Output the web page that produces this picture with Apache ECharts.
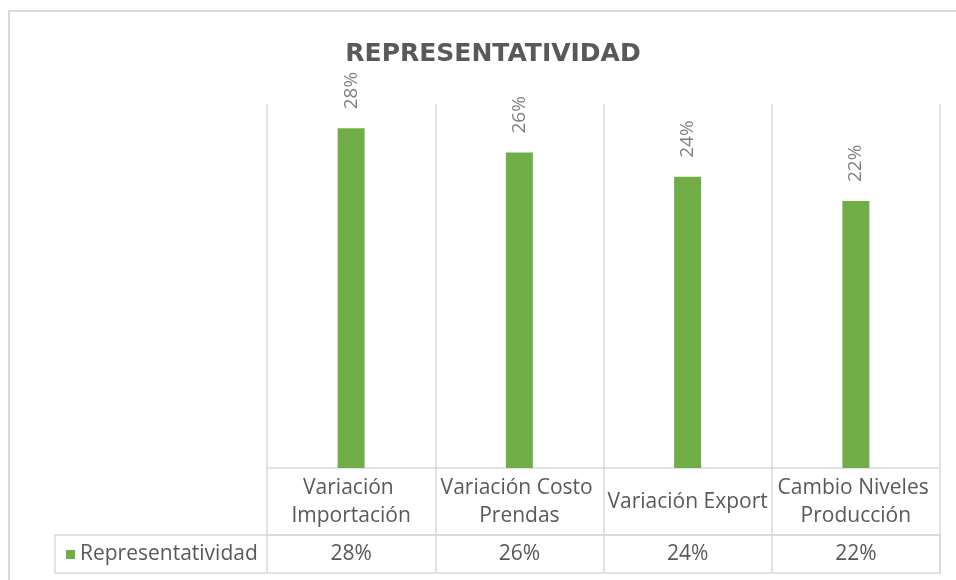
<!DOCTYPE html>
<html>
<head>
<meta charset="utf-8">
<script src="https://cdn.jsdelivr.net/npm/echarts@6/dist/echarts.min.js"></script>
<style>
  html, body { margin: 0; padding: 0; background: #fff; }
  #chart { width: 956px; height: 580px; }
</style>
</head>
<body>
<div id="chart"></div>
<script>
// datos del grafico
var titulo = 'REPRESENTATIVIDAD'
var serieNombre = 'Representatividad'
var categorias = ['Variación Importación', 'Variación Costo Prendas', 'Variación Export', 'Cambio Niveles Producción']
var valores = [28, 26, 24, 22]

var gris = '#d9d9d9'
var texto = '#595959'
var fuente = 'Open Sans'

var chart = echarts.init(document.getElementById('chart'))

chart.setOption({
  animation: false,
  title: {
    text: titulo,
    left: 488,
    textAlign: 'center',
    top: 37,
    textStyle: {
      fontFamily: 'DejaVu Sans',
      fontSize: 25,
      fontWeight: 'bold',
      color: texto
    }
  },
  legend: {
    data: [serieNombre],
    left: 66,
    top: 544,
    padding: 0,
    icon: 'rect',
    itemWidth: 9,
    itemHeight: 9,
    textStyle: { fontFamily: fuente, fontSize: 21, color: texto }
  },
  grid: {
    left: 267,
    right: 16,
    top: 104,
    bottom: 112
  },
  xAxis: [{
    type: 'category',
    data: categorias,
    axisLine: { lineStyle: { color: gris, width: 1.5 } },
    axisTick: { show: true, length: 67, lineStyle: { color: gris, width: 1.5 } },
    splitLine: { show: true, lineStyle: { color: gris, width: 1.5 } },
    axisLabel: {
      interval: 0,
      fontFamily: fuente,
      fontSize: 21,
      color: texto,
      margin: 34,
      verticalAlign: 'middle',
      align: 'center',
      width: 176,
      overflow: 'break',
      lineHeight: 28
    }
  }, {
    type: 'category',
    data: categorias,
    position: 'bottom',
    offset: 67,
    axisLine: { lineStyle: { color: gris, width: 1.5 } },
    axisTick: { show: true, length: 38, lineStyle: { color: gris, width: 1.5 } },
    axisLabel: {
      interval: 0,
      fontFamily: fuente,
      fontSize: 21,
      color: texto,
      margin: 19,
      verticalAlign: 'middle',
      formatter: function (v, i) {
        return valores[i] + '%'
      }
    }
  }],
  yAxis: {
    type: 'value',
    min: 0,
    max: 30,
    show: false
  },
  graphic: [{
    type: 'rect',
    shape: { x: 9, y: 11, width: 970, height: 600 },
    style: { fill: 'none', stroke: gris, lineWidth: 2 },
    silent: true
  }, {
    type: 'rect',
    shape: { x: 55, y: 535, width: 885, height: 38 },
    style: { fill: 'none', stroke: gris, lineWidth: 1.5 },
    silent: true
  }],
  series: [{
    name: serieNombre,
    type: 'bar',
    xAxisIndex: 0,
    data: valores,
    barWidth: 27,
    itemStyle: { color: '#70ad47' },
    label: {
      show: true,
      position: 'top',
      distance: 19,
      rotate: 90,
      align: 'left',
      verticalAlign: 'middle',
      formatter: '{c}%',
      fontFamily: fuente,
      fontSize: 19,
      color: '#7f7f7f'
    }
  }]
})
</script>
</body>
</html>
